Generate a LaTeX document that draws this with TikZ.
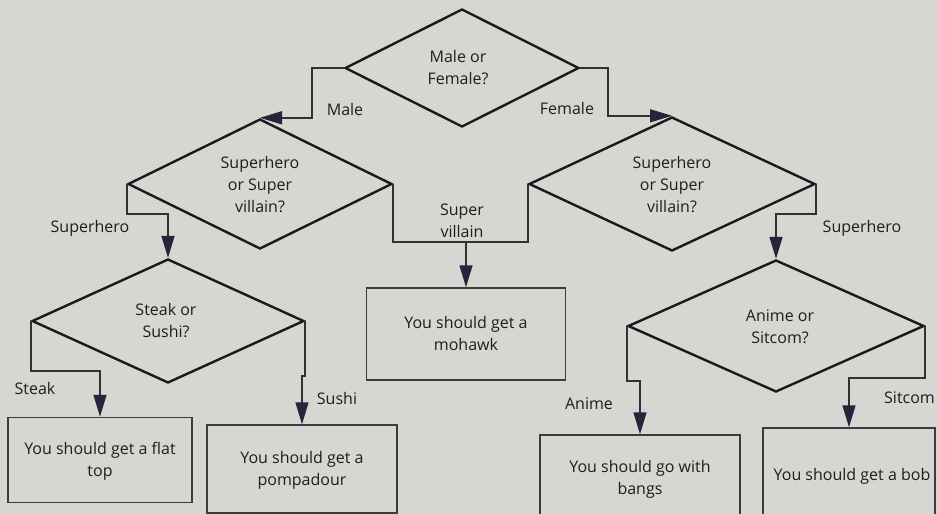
\documentclass[tikz,border=0pt]{standalone}
\usepackage{fontspec}
\setmainfont{Open Sans}
\usetikzlibrary{shapes.geometric,arrows.meta}
\definecolor{paper}{HTML}{D6D6D3}
\definecolor{ink}{HTML}{1A1A1A}
\definecolor{txtc}{HTML}{1E1E1E}
\definecolor{tipc}{HTML}{25243A}
\tikzset{
  dia/.style={diamond, draw=ink, line width=2.4pt, inner sep=0pt, aspect=2},
  outbox/.style={rectangle, draw=ink!85, line width=1.5pt, inner sep=0pt},
  lbl/.style={font=\fontsize{16}{22}\selectfont, text=txtc, align=center, inner sep=0pt},
  conn/.style={draw=ink!90, line width=1.5pt, -{Triangle[length=22pt,width=13pt,color=tipc]}},
  plain/.style={draw=ink!90, line width=1.5pt}
}
\begin{document}
\begin{tikzpicture}[x=1pt,y=-1pt]
\clip (0,0) rectangle (937,514);
\fill[paper] (0,0) rectangle (937,514);

% decisions
\node[dia, minimum width=234pt, minimum height=118pt] (d1) at (462,68) {};
\node[dia, minimum width=264pt, minimum height=130pt] (d2) at (260,184) {};
\node[dia, minimum width=286pt, minimum height=134pt] (d3) at (672,184) {};
\node[dia, minimum width=272pt, minimum height=124pt] (d4) at (168,321) {};
\node[dia, minimum width=296pt, minimum height=132pt] (d5) at (776,326) {};

\node[lbl] (t1) at (458,68) {Male or\\Female?};
\node[lbl] (t2) at (260,185) {Superhero\\or Super\\villain?};
\node[lbl] (t3) at (672,185) {Superhero\\or Super\\villain?};
\node[lbl] (t4) at (166,321) {Steak or\\Sushi?};
\node[lbl] (t5) at (780,327) {Anime or\\Sitcom?};

% outcomes
\node[outbox, minimum width=184pt, minimum height=85pt] (flat) at (100,460) {};
\node[outbox, minimum width=190pt, minimum height=88pt] (pomp) at (302,469) {};
\node[outbox, minimum width=199pt, minimum height=92pt] (moh) at (466,334) {};
\node[outbox, minimum width=200pt, minimum height=90pt] (bangs) at (640,480) {};
\node[outbox, minimum width=172pt, minimum height=96pt] (bob) at (849,476) {};

\node[lbl] (tf) at (100,461) {You should get a flat\\top};
\node[lbl] (tp) at (302,470) {You should get a\\pompadour};
\node[lbl] (tm) at (466,333) {You should get a\\mohawk};
\node[lbl] (tb) at (640,479) {You should go with\\bangs};
\node[lbl] (to) at (852,476) {You should get a bob};

% connectors
\coordinate (j) at (466,242);
\draw[conn] (d1.west) -- ++(-32,0) |- (d2.north);
\draw[conn] (d1.east) -- ++(28,0) |- (d3.north);
\draw[conn] (d2.west) -- ++(0,30) -| (d4.north);
\draw[plain] (d2.east) |- (j);
\draw[plain] (d3.west) |- (j);
\draw[conn] (j) -- (moh.north);
\draw[conn] (d3.east) -- ++(0,30) -| (d5.north);
\draw[conn] (d4.west) -- ++(0,50) -| (flat.north);
\draw[conn] (d4.east) -- ++(0,55) -| (pomp.north);
\draw[conn] (d5.west) -- ++(0,55) -| (bangs.north);
\draw[conn] (d5.east) -- ++(0,52) -| (bob.north);

% branch labels
\node[lbl] (lm) at (345,109) {Male};
\node[lbl] (lf) at (567,108) {Female};
\node[lbl] (lsh1) at (90,228) {Superhero};
\node[lbl] (lsv) at (462,221) {Super\\villain};
\node[lbl] (lsh2) at (862,228) {Superhero};
\node[lbl] (lst) at (35,388) {Steak};
\node[lbl] (lsu) at (337,398) {Sushi};
\node[lbl] (lan) at (589,404) {Anime};
\node[lbl, anchor=east] (lsi) at (935,398) {Sitcom};
\end{tikzpicture}
\end{document}
